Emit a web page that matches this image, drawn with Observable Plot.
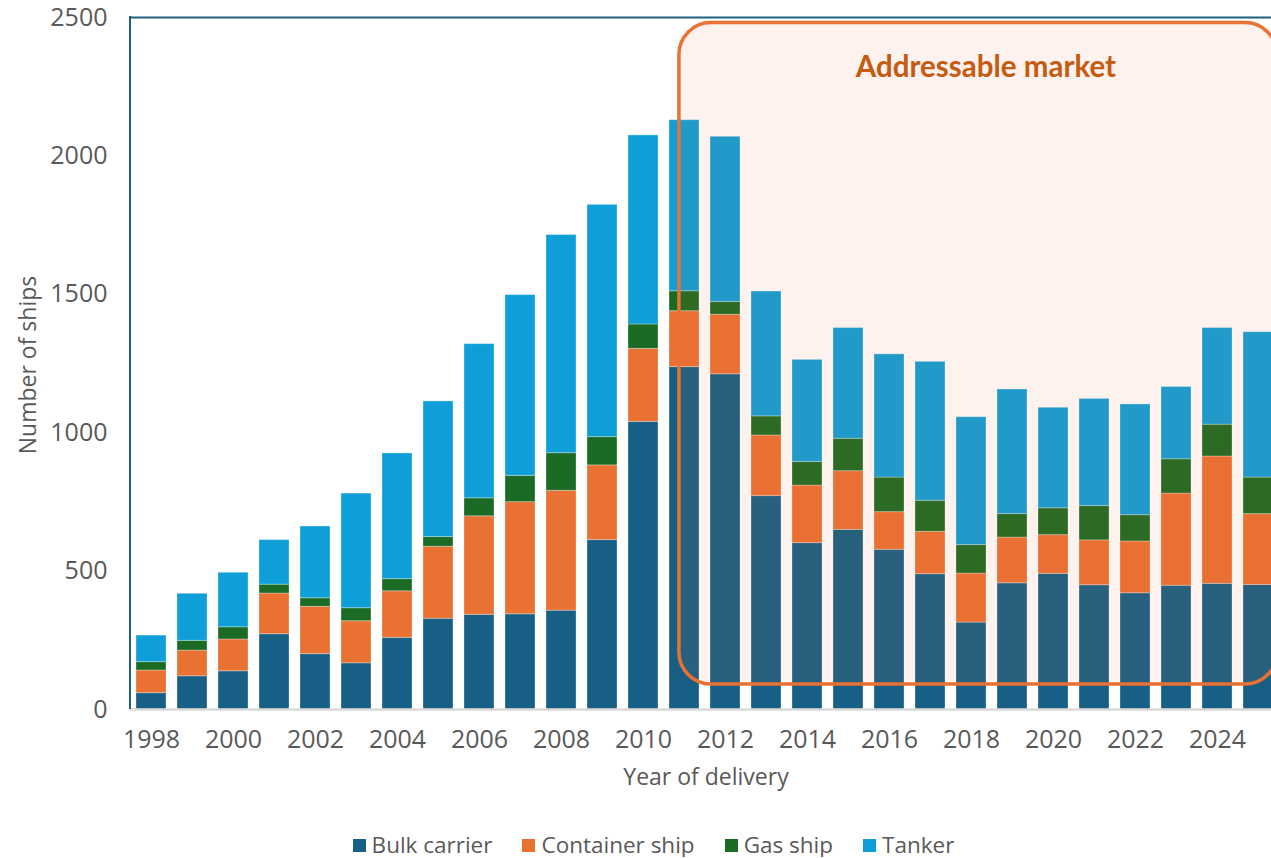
<!DOCTYPE html>
<html>
<head>
<meta charset="utf-8">
<script src="https://cdn.jsdelivr.net/npm/d3@7"></script>
<script src="https://cdn.jsdelivr.net/npm/@observablehq/plot@0.6"></script>
<style>
  html, body { margin: 0; padding: 0; background: #fff; }
  #chart { width: 1271px; overflow: hidden; }
  #chart svg { display: block; max-width: none !important; }
  .legend { display: flex; justify-content: center; align-items: center; width: 1235px; height: 24px; margin-top: 23px;
            padding-left: 36px; font: 22.5px/24px "Open Sans", sans-serif; color: #595959; }
  .legend .item { display: flex; align-items: center; margin: 0 15px; white-space: nowrap; }
  .legend .sw { display: inline-block; width: 13px; height: 13px; margin-right: 6px; }
</style>
</head>
<body>
<div id="chart"></div>
<div class="legend" id="legend"></div>
<script>
// Ships delivered per year, by ship type
const years = [1998, 1999, 2000, 2001, 2002, 2003, 2004, 2005, 2006, 2007, 2008, 2009, 2010, 2011,
               2012, 2013, 2014, 2015, 2016, 2017, 2018, 2019, 2020, 2021, 2022, 2023, 2024, 2025];
const seriesNames = ["Bulk carrier", "Container ship", "Gas ship", "Tanker"];
const bulkCarrier   = [59, 120, 138, 272, 200, 167, 259, 328, 342, 344, 357, 612, 1039, 1237,
                       1211, 771, 601, 649, 577, 489, 314, 456, 490, 449, 420, 447, 454, 450];
const containerShip = [82, 93, 115, 147, 171, 152, 168, 260, 356, 405, 433, 270, 264, 202,
                       215, 219, 208, 212, 136, 153, 177, 165, 140, 162, 187, 333, 460, 256];
const gasShip       = [30, 35, 44, 32, 31, 47, 44, 35, 65, 95, 136, 102, 88, 72,
                       46, 69, 85, 117, 125, 112, 103, 85, 97, 124, 95, 124, 115, 132];
const tanker        = [96, 170, 197, 161, 259, 414, 454, 490, 557, 653, 788, 839, 683, 618,
                       597, 451, 369, 400, 445, 502, 462, 450, 363, 387, 400, 261, 349, 525];
const seriesColors = ["#175f85", "#e97132", "#1b6b24", "#0f9fd8"];

const xTicks = [1998, 2000, 2002, 2004, 2006, 2008, 2010, 2012, 2014, 2016, 2018, 2020, 2022, 2024];
const yTicks = [0, 500, 1000, 1500, 2000, 2500];
const xTitle = "Year of delivery";
const yTitle = "Number of ships";

// Highlighted region: delivery years and ship-count span of the annotation box
const marketYears = [2011, 2025];
const marketShips = [90, 2480];
const marketLabel = "Addressable market";
const marketLabelShips = 2325;

const seriesValues = [bulkCarrier, containerShip, gasShip, tanker];
const rows = [];
seriesNames.forEach((name, s) => {
  years.forEach((year, i) => rows.push({year, type: name, ships: seriesValues[s][i]}));
});

const ink = "#595959";
const frameBlue = "#20607f";
const accent = "#e97132";
const ns = "http://www.w3.org/2000/svg";

function svgEl(tag, attrs) {
  const el = document.createElementNS(ns, tag);
  for (const [k, v] of Object.entries(attrs)) el.setAttribute(k, v);
  return el;
}

// Left edge line of the plotting frame
function leftEdge(index, scales, values, dims) {
  return svgEl("line", {
    x1: dims.marginLeft, x2: dims.marginLeft,
    y1: dims.marginTop - 1, y2: dims.height - dims.marginBottom,
    stroke: frameBlue, "stroke-width": 2
  });
}

// Axis titles, centred on the frame
function axisTitles(index, scales, values, dims) {
  const g = svgEl("g", {fill: ink, "font-size": 23, "text-anchor": "middle", "dominant-baseline": "central"});
  const cx = (dims.marginLeft + dims.width - dims.marginRight) / 2 + 2;
  const cy = (dims.marginTop + dims.height - dims.marginBottom) / 2 + 2;
  const bottom = dims.height - dims.marginBottom;
  const tx = svgEl("text", {x: cx, y: bottom + 67});
  tx.textContent = xTitle;
  const ty = svgEl("text", {transform: `translate(${dims.marginLeft - 103},${cy}) rotate(-90)`});
  ty.textContent = yTitle;
  g.appendChild(tx);
  g.appendChild(ty);
  return g;
}

// Translucent rounded box over the addressable-market years, with its title
function marketBox(index, scales, values, dims) {
  const {x, y} = scales;
  const bw = x.bandwidth ? x.bandwidth() : 0;
  const x1 = x(marketYears[0]) + bw * 0.33;
  const x2 = x(marketYears[1]) + bw + 4;
  const y1 = y(marketShips[1]);
  const y2 = y(marketShips[0]);
  const g = svgEl("g", {});
  g.appendChild(svgEl("rect", {
    x: x1, y: y1, width: x2 - x1, height: y2 - y1, rx: 32,
    fill: accent, "fill-opacity": 0.09, stroke: accent, "stroke-width": 3.5
  }));
  const t = svgEl("text", {
    x: (x1 + x2) / 2 + 8, y: y(marketLabelShips),
    "text-anchor": "middle", "dominant-baseline": "central",
    "font-family": "Lato, 'Open Sans', sans-serif", "font-weight": "bold",
    "font-size": 29.5, fill: "#c55a11"
  });
  t.textContent = marketLabel;
  g.appendChild(t);
  return g;
}

const chart = Plot.plot({
  width: 1280,
  height: 810,
  marginTop: 17,
  marginBottom: 101,
  marginLeft: 130,
  marginRight: 2,
  style: {fontFamily: "'Open Sans', sans-serif", fontSize: "25px", color: ink, background: "#fff", maxWidth: "none"},
  x: {domain: years, paddingInner: 0.27, paddingOuter: 0.135},
  y: {domain: [0, 2500]},
  color: {domain: seriesNames, range: seriesColors},
  marks: [
    Plot.barY(rows, Plot.stackY({
      x: "year", y: "ships", fill: "type", order: seriesNames,
      stroke: "#ffffff", strokeOpacity: 0.3, strokeWidth: 1
    })),
    Plot.ruleY([0], {stroke: "#d9d9d9", strokeWidth: 2.5}),
    Plot.ruleY([2500], {stroke: frameBlue, strokeWidth: 2}),
    leftEdge,
    marketBox,
    Plot.axisX({ticks: xTicks, tickSize: 0, tickPadding: 21, label: null, tickFormat: d => String(d), fill: ink}),
    Plot.axisY({ticks: yTicks, tickSize: 0, tickPadding: 23, label: null, tickFormat: d => String(d), fill: ink}),
    axisTitles
  ]
});
document.getElementById("chart").appendChild(chart);

const legend = document.getElementById("legend");
seriesNames.forEach((name, i) => {
  const item = document.createElement("div");
  item.className = "item";
  const sw = document.createElement("span");
  sw.className = "sw";
  sw.style.background = seriesColors[i];
  item.appendChild(sw);
  const label = document.createElement("span");
  label.textContent = name;
  item.appendChild(label);
  legend.appendChild(item);
});
</script>
</body>
</html>
